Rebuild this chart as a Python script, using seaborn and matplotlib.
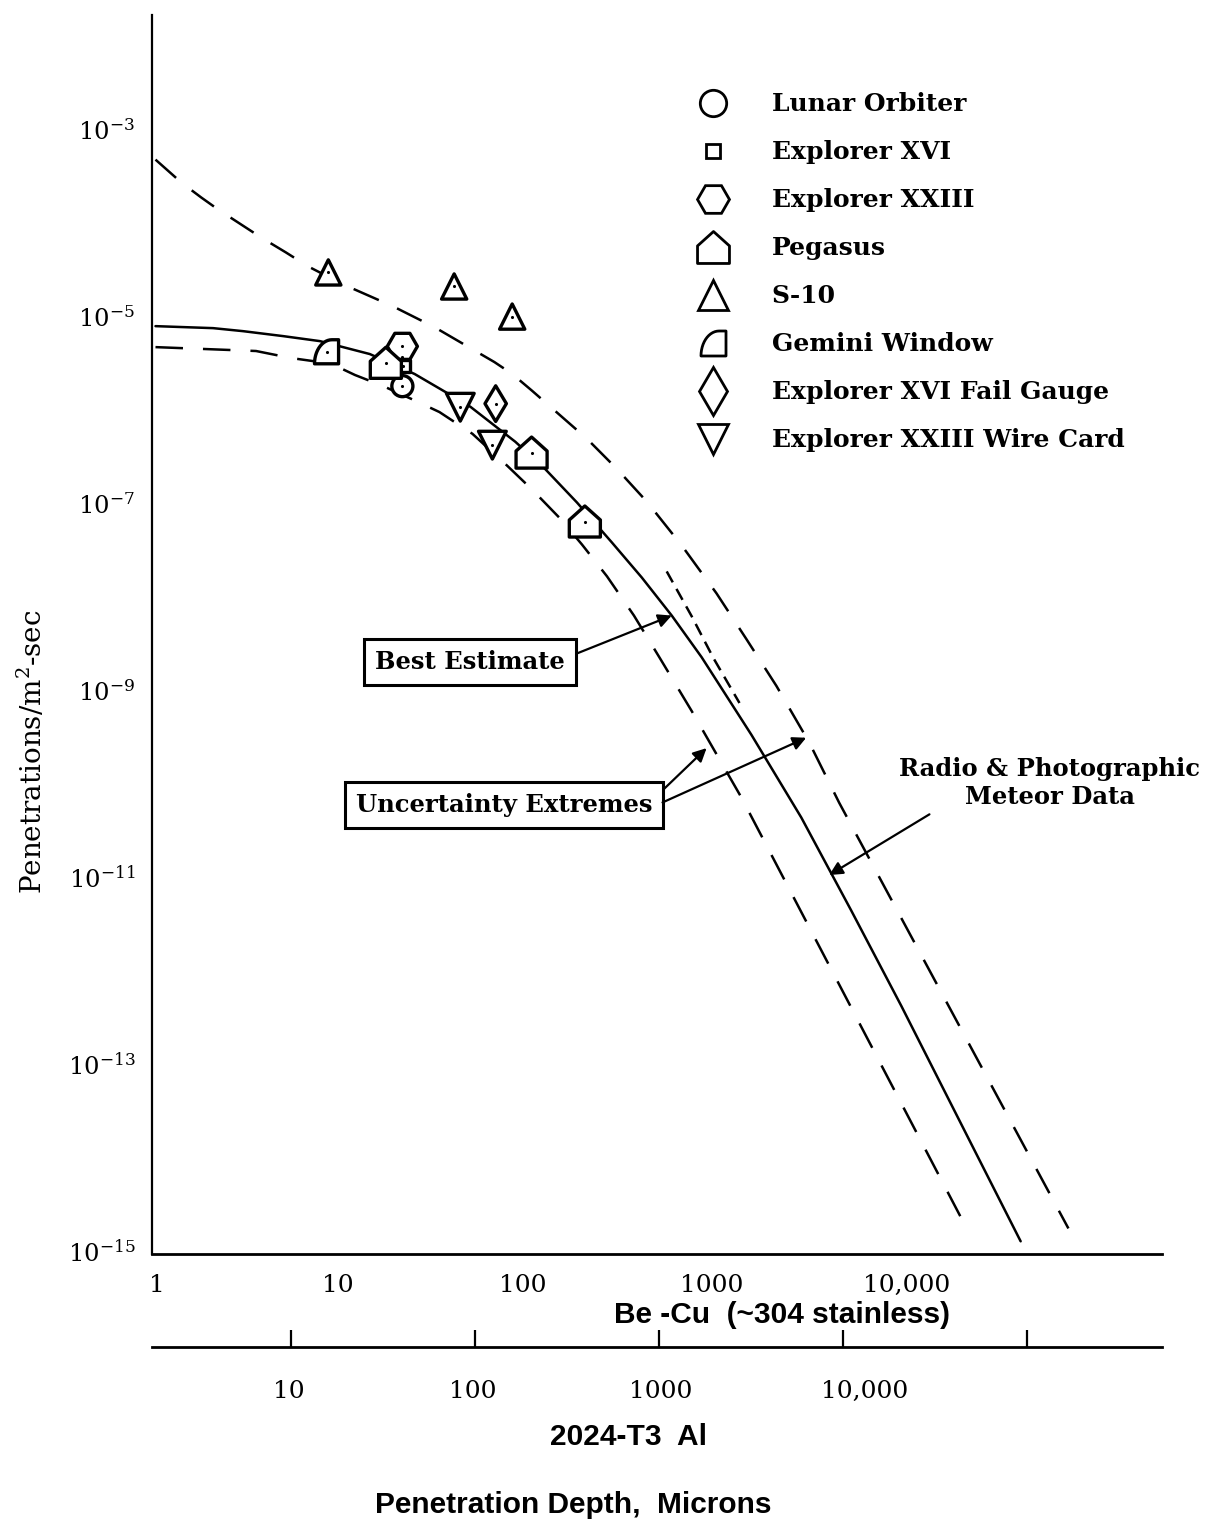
import numpy as np
import pandas as pd
import matplotlib
matplotlib.use("Agg")
import matplotlib.pyplot as plt
import matplotlib.transforms as mtransforms
import seaborn as sns
from matplotlib.path import Path
from matplotlib.lines import Line2D

# ---- curves (Be-Cu penetration depth in microns, penetrations / m^2-sec) ----
best_x = [1.045, 2.15, 3.13, 5.16, 8.19, 15.3, 26.8, 39.4, 54, 94.6, 137, 205, 317, 461,
          671, 975, 1820, 3400, 6340, 11900, 53000]
best_y = [7.9e-6, 7.52e-6, 6.98e-6, 6.18e-6, 5.46e-6, 3.97e-6, 2.43e-6, 1.56e-6, 1.08e-6,
          4.57e-7, 2.35e-7, 1.02e-7, 3.82e-8, 1.61e-8, 6.3e-9, 2.26e-9, 3.33e-10, 4.33e-11,
          4.41e-12, 4.16e-13, 1.26e-15]

upper_x = [1.045, 1.445, 1.855, 2.29, 3.92, 5.35, 7.05, 10.9, 20.4, 34.4, 72.8, 91, 117,
           232, 337, 491, 760, 1175, 1710, 2490, 3760, 5460, 96400]
upper_y = [4.79e-4, 2.72e-4, 1.88e-4, 1.40e-4, 7.03e-5, 4.86e-5, 3.45e-5, 2.22e-5, 1.29e-5,
           7.7e-6, 3.26e-6, 2.43e-6, 1.6e-6, 4.92e-7, 2.35e-7, 1.045e-7, 3.55e-8, 1.09e-8,
           3.52e-9, 1.11e-9, 2.74e-10, 6.25e-11, 1.73e-15]

lower_x = [1.045, 3.68, 5.70, 8.19, 10.3, 12.7, 18.0, 27.2, 36.6, 55.3, 85.5, 117, 164,
           218, 298, 418, 578, 861, 1607, 26600]
lower_y = [4.71e-6, 4.28e-6, 3.60e-6, 3.26e-6, 2.88e-6, 2.37e-6, 1.81e-6, 1.25e-6, 9.5e-7,
           5.56e-7, 2.53e-7, 1.40e-7, 7.05e-8, 3.63e-8, 1.66e-8, 6.3e-9, 2.21e-9, 6.0e-10,
           7.08e-11, 1.82e-15]

meteor_x = [630, 861, 1132, 1567]
meteor_y = [1.87e-8, 6.2e-9, 2.2e-9, 7.3e-10]

# ---- measured points ----
crafts = ["Lunar Orbiter", "Explorer XVI", "Explorer XXIII", "Pegasus", "S-10",
          "Gemini Window", "Explorer XVI Fail Gauge", "Explorer XXIII Wire Card"]
lunar_x, lunar_y = [23], [1.8e-6]
exp16_x, exp16_y = [23, 23.3], [3.7e-6, 2.95e-6]
exp23_x, exp23_y = [23], [4.8e-6]
pegasus_x, pegasus_y = [18.7, 116, 226], [3.2e-6, 3.5e-7, 6.4e-8]
s10_x, s10_y = [9.1, 44, 91], [2.97e-5, 2.1e-5, 1.0e-5]
gemini_x, gemini_y = [8.9], [4.2e-6]
gauge_x, gauge_y = [74], [1.17e-6]
wire_x, wire_y = [47.5, 71], [1.07e-6, 4.2e-7]

# ---- marker shapes ----
house = Path([(-1, -1), (1, -1), (1, 0.1), (0, 1), (-1, 0.1), (-1, -1)],
             [Path.MOVETO] + [Path.LINETO] * 4 + [Path.CLOSEPOLY])
t = np.linspace(np.pi / 2, np.pi, 14)
arc = [(0.45 + 1.45 * np.cos(a), -1 + 2 * np.sin(a)) for a in t]
gem_verts = [(1, -1), (1, 1)] + arc + [(1, -1)]
gemini = Path(gem_verts, [Path.MOVETO] + [Path.LINETO] * (len(gem_verts) - 2) + [Path.CLOSEPOLY])

markers = {"Lunar Orbiter": "o", "Explorer XVI": "s", "Explorer XXIII": "H",
           "Pegasus": house, "S-10": "^", "Gemini Window": gemini,
           "Explorer XVI Fail Gauge": "d", "Explorer XXIII Wire Card": "v"}
sizes = {"Lunar Orbiter": 230, "Explorer XVI": 80, "Explorer XXIII": 470,
         "Pegasus": 500, "S-10": 330, "Gemini Window": 300,
         "Explorer XVI Fail Gauge": 330, "Explorer XXIII Wire Card": 400}

rows = []
for name, xs, ys in [("Explorer XVI", exp16_x, exp16_y), ("Explorer XXIII", exp23_x, exp23_y),
                     ("Lunar Orbiter", lunar_x, lunar_y), ("Pegasus", pegasus_x, pegasus_y),
                     ("S-10", s10_x, s10_y), ("Gemini Window", gemini_x, gemini_y),
                     ("Explorer XVI Fail Gauge", gauge_x, gauge_y),
                     ("Explorer XXIII Wire Card", wire_x, wire_y)]:
    for xv, yv in zip(xs, ys):
        rows.append([name, xv, yv])
pts = pd.DataFrame(rows, columns=["craft", "depth", "rate"])

sns.set_style("white")
plt.rcParams["font.family"] = ["DejaVu Serif"]
plt.rcParams["mathtext.fontset"] = "dejavuserif"
for key in ["text.color", "axes.labelcolor", "xtick.color", "ytick.color", "axes.edgecolor"]:
    plt.rcParams[key] = "black"

fig = plt.figure(figsize=(12.11, 15.21), dpi=100)
ax = fig.add_axes([0.1255, 0.1755, 0.834, 0.8146])
ax.set_xscale("log")
ax.set_yscale("log")

lw = 1.8
sns.lineplot(x=best_x, y=best_y, ax=ax, color="black", linewidth=lw, sort=False, estimator=None)
sns.lineplot(x=upper_x, y=upper_y, ax=ax, color="black", linewidth=lw, sort=False,
             estimator=None, linestyle=(0, (11, 8)))
sns.lineplot(x=lower_x, y=lower_y, ax=ax, color="black", linewidth=lw, sort=False,
             estimator=None, linestyle=(0, (11, 8)))
sns.lineplot(x=meteor_x, y=meteor_y, ax=ax, color="black", linewidth=lw, sort=False,
             estimator=None, linestyle=(0, (5, 3)))

sns.scatterplot(data=pts, x="depth", y="rate", style="craft", markers=markers,
                size="craft", sizes=sizes, color="white", edgecolor="black",
                linewidth=2.4, legend=False, ax=ax, zorder=5)
sns.scatterplot(data=pts, x="depth", y="rate", color="black", s=5, linewidth=0,
                legend=False, ax=ax, zorder=6)

ax.set_xlim(1.045, 3.11e5)
ax.set_ylim(9.2e-16, 1.69e-2)
ax.set_xlabel("")
ax.set_ylabel("")
for s in ["top", "right"]:
    ax.spines[s].set_visible(False)
ax.spines["left"].set_linewidth(1.6)
ax.spines["bottom"].set_linewidth(2.0)

ax.set_xticks([1, 10, 100, 1000, 10000, 100000])
ax.set_xticklabels(["1", "10", "100", "1000", "10,000", ""])
ax.xaxis.set_minor_locator(matplotlib.ticker.NullLocator())
ax.tick_params(axis="x", direction="in", length=14, width=1.6, pad=14, labelsize=18)
ax.xaxis.get_major_ticks()[0].tick1line.set_visible(False)
for lbl, dx in zip(ax.get_xticklabels(), [5, 2, 3, 8, 19, 0]):
    lbl.set_transform(lbl.get_transform() + mtransforms.ScaledTranslation(dx / 100, 0, fig.dpi_scale_trans))

yt = [1e-3, 1e-5, 1e-7, 1e-9, 1e-11, 1e-13, 1e-15]
ax.set_yticks(yt)
ax.set_yticklabels([r"$10^{-%d}$" % e for e in [3, 5, 7, 9, 11, 13, 15]])
ax.yaxis.set_minor_locator(matplotlib.ticker.NullLocator())
ax.tick_params(axis="y", direction="in", length=12, width=1.6, pad=12, labelsize=17.5)

# aluminium scale below
sec = ax.secondary_xaxis(-0.075, functions=(lambda v: v * 1.75, lambda v: v / 1.75))
sec.set_xscale("log")
sec.set_xticks([10, 100, 1000, 10000, 100000])
sec.set_xticklabels(["10", "100", "1000", "10,000", ""])
sec.xaxis.set_minor_locator(matplotlib.ticker.NullLocator())
sec.tick_params(axis="x", direction="in", length=12, width=1.6, pad=24, labelsize=18)
sec.spines["bottom"].set_linewidth(2.0)
for lbl, dx in zip(sec.get_xticklabels(), [-2, -2, 2, 22, 0]):
    lbl.set_transform(lbl.get_transform() + mtransforms.ScaledTranslation(dx / 100, 0, fig.dpi_scale_trans))

fig.text(0.0264, 0.5056, r"Penetrations/m$^2$-sec", rotation=90, ha="center", va="center",
         fontsize=20)
lab = dict(family="Liberation Sans", weight="bold", fontsize=21.5, ha="center", va="center")
fig.text(0.6457, 0.1354, "Be -Cu  (~304 stainless)", **lab)
fig.text(0.5186, 0.0552, "2024-T3  Al", **lab)
fig.text(0.473, 0.0105, "Penetration Depth,  Microns", **lab)

# legend
handles = []
leg_sizes = {"Lunar Orbiter": 19, "Explorer XVI": 10, "Explorer XXIII": 23,
             "Pegasus": 23, "S-10": 22, "Gemini Window": 18,
             "Explorer XVI Fail Gauge": 24, "Explorer XXIII Wire Card": 22}
for c in crafts:
    handles.append(Line2D([], [], ls="none", marker=markers[c], markersize=leg_sizes[c],
                          mfc="white", mec="black", mew=2.0))
ax.legend(handles, crafts, loc="upper left", bbox_to_anchor=(0.543, 0.9375), frameon=False,
          handlelength=1.0, handletextpad=1.85, labelspacing=0.96,
          borderpad=0, borderaxespad=0, prop={"weight": "bold", "size": 18})

box = dict(boxstyle="square,pad=0.45", fc="white", ec="black", lw=2.2)
arr = dict(arrowstyle="-|>", color="black", lw=1.6, mutation_scale=20, shrinkA=0, shrinkB=0)
ax.annotate("Best Estimate", xy=(671, 6.3e-9), xytext=(0.315, 0.478),
            textcoords="axes fraction", ha="center", va="center", fontsize=17.5,
            weight="bold", bbox=box, arrowprops=dict(arr, relpos=(1.0, 0.65)))
ax.annotate("Uncertainty Extremes", xy=(1038, 2.4e-10), xytext=(0.3485, 0.3624),
            textcoords="axes fraction", ha="center", va="center", fontsize=17.5,
            weight="bold", bbox=box, arrowprops=dict(arr, relpos=(1.0, 0.7)))
ax.annotate("", xy=(3614, 3.1e-10), xytext=(0.5055, 0.3645), textcoords="axes fraction",
            arrowprops=arr)
ax.annotate("Radio & Photographic\nMeteor Data", xy=(4819, 1.05e-11), xytext=(0.889, 0.38),
            textcoords="axes fraction", ha="center", va="center", fontsize=17.5,
            weight="bold", arrowprops=dict(arr, relpos=(0.1, -0.1)))

fig.savefig("out.png", dpi=100, facecolor="white")
